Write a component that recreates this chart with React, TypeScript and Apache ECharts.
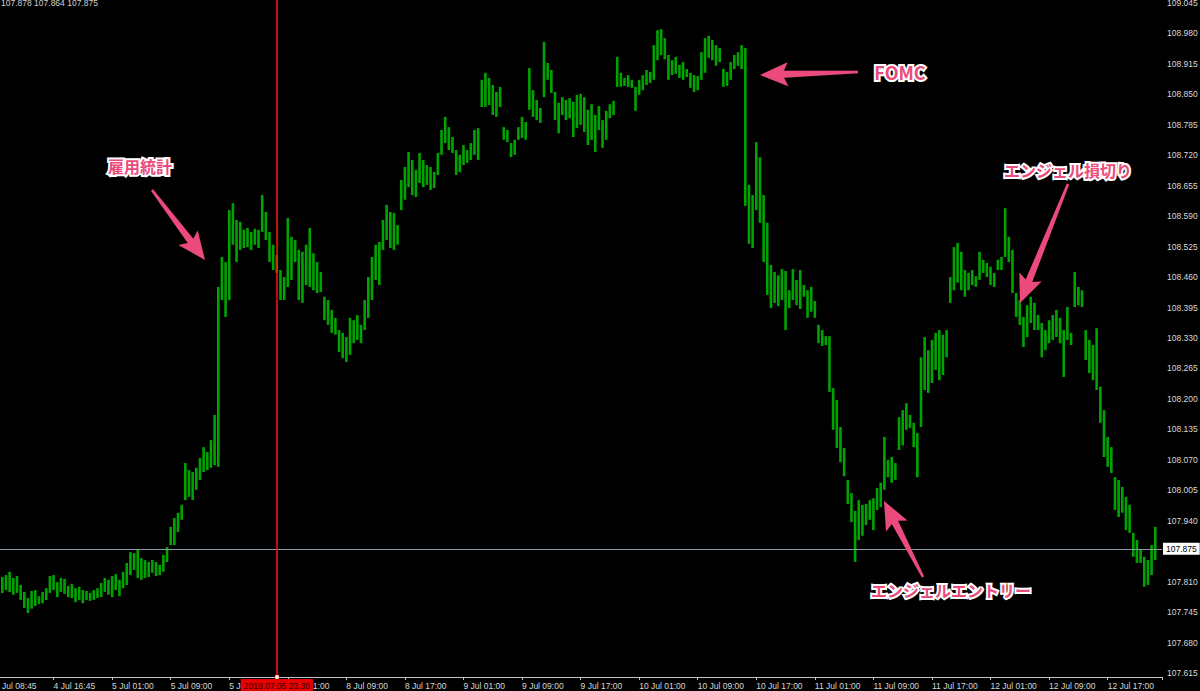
import React, { useEffect, useRef } from "react";
import * as echarts from "echarts";

// ---- axis labels ----
const xLabels = [
  "4 Jul 08:45", "4 Jul 16:45", "5 Jul 01:00", "5 Jul 09:00", "5 Jul 17:00",
  "8 Jul 01:00", "8 Jul 09:00", "8 Jul 17:00", "9 Jul 01:00", "9 Jul 09:00",
  "9 Jul 17:00", "10 Jul 01:00", "10 Jul 09:00", "10 Jul 17:00", "11 Jul 01:00",
  "11 Jul 09:00", "11 Jul 17:00", "12 Jul 01:00", "12 Jul 09:00", "12 Jul 17:00",
];
const yTicks = [
  107.615, 107.68, 107.745, 107.81, 107.875, 107.94, 108.005, 108.07, 108.135,
  108.2, 108.265, 108.33, 108.395, 108.46, 108.525, 108.59, 108.655, 108.72,
  108.785, 108.85, 108.915, 108.98, 109.045,
];

// ---- bar data (30-minute bars, index of first bar) ----
const firstBar = 2;
const highs = [
  107.820, 107.824, 107.831, 107.818, 107.822, 107.803, 107.788, 107.775, 107.790, 107.792,
  107.779, 107.788, 107.796, 107.822, 107.824, 107.809, 107.818, 107.816, 107.801, 107.805,
  107.796, 107.799, 107.792, 107.790, 107.786, 107.792, 107.796, 107.807, 107.818, 107.814,
  107.822, 107.826, 107.814, 107.831, 107.850, 107.873, 107.871, 107.878, 107.860, 107.856,
  107.852, 107.856, 107.852, 107.846, 107.867, 107.884, 107.927, 107.946, 107.957, 107.974,
  108.063, 108.048, 108.044, 108.053, 108.074, 108.097, 108.087, 108.112, 108.166, 108.439,
  108.503, 108.492, 108.603, 108.618, 108.582, 108.578, 108.561, 108.565, 108.556, 108.563,
  108.561, 108.635, 108.599, 108.556, 108.529, 108.507, 108.475, 108.460, 108.586, 108.546,
  108.539, 108.518, 108.514, 108.529, 108.565, 108.511, 108.492, 108.471, 108.418, 108.411,
  108.390, 108.373, 108.347, 108.341, 108.332, 108.373, 108.368, 108.379, 108.358, 108.411,
  108.460, 108.503, 108.529, 108.535, 108.582, 108.614, 108.599, 108.597, 108.571, 108.667,
  108.695, 108.727, 108.710, 108.689, 108.725, 108.710, 108.699, 108.695, 108.684, 108.725,
  108.774, 108.802, 108.780, 108.759, 108.731, 108.721, 108.742, 108.731, 108.746, 108.774,
  108.778, 108.881, 108.896, 108.885, 108.870, 108.855, 108.866, 108.780, 108.774, 108.746,
  108.753, 108.780, 108.802, 108.791, 108.906, 108.859, 108.838, 108.821, 108.962, 108.917,
  108.902, 108.855, 108.832, 108.844, 108.838, 108.842, 108.834, 108.849, 108.851, 108.844,
  108.817, 108.829, 108.806, 108.825, 108.795, 108.815, 108.829, 108.836, 108.930, 108.896,
  108.885, 108.891, 108.881, 108.866, 108.881, 108.891, 108.902, 108.898, 108.955, 108.987,
  108.989, 108.970, 108.934, 108.923, 108.930, 108.913, 108.919, 108.904, 108.896, 108.891,
  108.889, 108.940, 108.970, 108.975, 108.966, 108.955, 108.949, 108.904, 108.898, 108.919,
  108.934, 108.940, 108.955, 108.949, 108.657, 108.635, 108.748, 108.716, 108.635, 108.576,
  108.486, 108.471, 108.464, 108.477, 108.473, 108.432, 108.477, 108.454, 108.475, 108.443,
  108.432, 108.439, 108.409, 108.358, 108.347, 108.334, 108.334, 108.223, 108.198, 108.140,
  108.095, 108.027, 107.999, 107.961, 107.984, 107.974, 107.976, 107.984, 107.988, 108.010,
  108.021, 108.119, 108.070, 108.076, 108.063, 108.161, 108.176, 108.191, 108.166, 108.149,
  108.127, 108.289, 108.332, 108.304, 108.326, 108.341, 108.347, 108.337, 108.347, 108.460,
  108.524, 108.533, 108.514, 108.475, 108.469, 108.475, 108.462, 108.514, 108.497, 108.490,
  108.482, 108.469, 108.497, 108.503, 108.607, 108.546, 108.518, 108.426, 108.411, 108.375,
  108.400, 108.418, 108.405, 108.379, 108.362, 108.347, 108.368, 108.379, 108.390, 108.373,
  108.347, 108.396, 108.341, 108.471, 108.439, 108.432, 108.347, 108.326, 108.315, 108.351,
  108.226, 108.176, 108.119, 108.097, 108.033, 108.027, 108.012, 107.991, 107.974, 107.914,
  107.899, 107.878, 107.863, 107.856, 107.888, 107.927,
];
const lows = [
  107.786, 107.792, 107.788, 107.782, 107.786, 107.771, 107.754, 107.743, 107.752, 107.758,
  107.762, 107.764, 107.771, 107.786, 107.792, 107.777, 107.788, 107.784, 107.777, 107.775,
  107.766, 107.771, 107.764, 107.771, 107.769, 107.771, 107.775, 107.777, 107.788, 107.782,
  107.777, 107.792, 107.779, 107.796, 107.803, 107.824, 107.835, 107.818, 107.814, 107.818,
  107.820, 107.829, 107.822, 107.824, 107.831, 107.852, 107.888, 107.888, 107.916, 107.942,
  107.984, 107.991, 107.984, 108.006, 108.027, 108.044, 108.048, 108.053, 108.059, 108.055,
  108.411, 108.375, 108.411, 108.529, 108.492, 108.518, 108.522, 108.524, 108.518, 108.529,
  108.522, 108.556, 108.539, 108.492, 108.475, 108.469, 108.411, 108.411, 108.439, 108.454,
  108.492, 108.411, 108.405, 108.443, 108.439, 108.432, 108.426, 108.428, 108.368, 108.358,
  108.341, 108.337, 108.300, 108.287, 108.279, 108.294, 108.319, 108.326, 108.319, 108.347,
  108.373, 108.411, 108.454, 108.443, 108.518, 108.539, 108.522, 108.518, 108.529, 108.603,
  108.625, 108.652, 108.635, 108.631, 108.661, 108.652, 108.657, 108.646, 108.650, 108.678,
  108.721, 108.746, 108.731, 108.725, 108.678, 108.684, 108.699, 108.704, 108.710, 108.721,
  108.710, 108.823, 108.823, 108.827, 108.806, 108.802, 108.823, 108.753, 108.748, 108.716,
  108.721, 108.753, 108.757, 108.753, 108.817, 108.802, 108.795, 108.789, 108.844, 108.881,
  108.853, 108.795, 108.767, 108.806, 108.795, 108.799, 108.759, 108.778, 108.785, 108.770,
  108.742, 108.753, 108.727, 108.774, 108.736, 108.753, 108.799, 108.806, 108.866, 108.866,
  108.868, 108.866, 108.864, 108.815, 108.849, 108.859, 108.870, 108.874, 108.881, 108.923,
  108.934, 108.925, 108.881, 108.891, 108.894, 108.885, 108.881, 108.887, 108.864, 108.855,
  108.859, 108.881, 108.896, 108.928, 108.923, 108.911, 108.919, 108.866, 108.868, 108.881,
  108.904, 108.911, 108.904, 108.612, 108.531, 108.522, 108.603, 108.576, 108.492, 108.422,
  108.394, 108.405, 108.398, 108.411, 108.347, 108.394, 108.411, 108.400, 108.392, 108.418,
  108.373, 108.386, 108.373, 108.319, 108.313, 108.315, 108.215, 108.134, 108.095, 108.065,
  108.035, 107.976, 107.937, 107.852, 107.899, 107.908, 107.931, 107.942, 107.920, 107.963,
  107.969, 108.006, 108.033, 108.021, 108.027, 108.091, 108.101, 108.134, 108.138, 108.097,
  108.033, 108.140, 108.219, 108.213, 108.234, 108.262, 108.240, 108.251, 108.289, 108.405,
  108.432, 108.448, 108.432, 108.418, 108.432, 108.443, 108.439, 108.454, 108.469, 108.460,
  108.443, 108.439, 108.475, 108.475, 108.503, 108.492, 108.426, 108.375, 108.358, 108.311,
  108.332, 108.362, 108.347, 108.347, 108.289, 108.304, 108.319, 108.326, 108.332, 108.319,
  108.247, 108.326, 108.315, 108.396, 108.400, 108.396, 108.283, 108.255, 108.240, 108.219,
  108.149, 108.076, 108.055, 108.042, 107.963, 107.948, 107.957, 107.920, 107.914, 107.863,
  107.850, 107.850, 107.799, 107.803, 107.824, 107.856,
];
const lastPrice = 107.875;
const cursorBar = 77;
const cursorLabel = "2019.07.05 23:30";
const headerText = "107.878 107.864 107.875";

// ---- annotations (text + arrow, in page pixels) ----
const annotations = [
  { text: "雇用統計", tx: 140, ty: 166, size: 16, tail: [152, 190], tip: [205, 260] },
  { text: "FOMC", tx: 900, ty: 72, size: 18, tail: [858, 72], tip: [760, 75] },
  { text: "エンジェル損切り", tx: 1068, ty: 170, size: 16, tail: [1068, 184], tip: [1020, 303] },
  { text: "エンジェルエントリー", tx: 951, ty: 590, size: 16, tail: [923, 577], tip: [884, 501] },
];

const PINK = "#ea4b7b";
const GREEN = "#00a400";
const CURSOR_RED = "#ff1010";

function arrowPoints(tail: number[], tip: number[]) {
  const dx = tip[0] - tail[0];
  const dy = tip[1] - tail[1];
  const len = Math.hypot(dx, dy);
  const ux = dx / len, uy = dy / len;
  const nx = -uy, ny = ux;
  const headLen = 24, headHalf = 12, w0 = 2.5, w1 = 7, sweep = 4;
  const bx = tip[0] - ux * headLen, by = tip[1] - uy * headLen;
  const cx = bx - ux * sweep, cy = by - uy * sweep;
  return [
    [tail[0] + (nx * w0) / 2, tail[1] + (ny * w0) / 2],
    [bx + (nx * w1) / 2, by + (ny * w1) / 2],
    [cx + nx * headHalf, cy + ny * headHalf],
    [tip[0], tip[1]],
    [cx - nx * headHalf, cy - ny * headHalf],
    [bx - (nx * w1) / 2, by - (ny * w1) / 2],
    [tail[0] - (nx * w0) / 2, tail[1] - (ny * w0) / 2],
  ];
}

export default function App() {
  const ref = useRef<HTMLDivElement>(null);
  useEffect(() => {
    if (!ref.current) return;
    const chart = echarts.init(ref.current, null, { renderer: "svg" });
    const barData = highs.map((h, k) => [firstBar + k, lows[k], h]);

    const graphics: any[] = [
      {
        type: "text",
        left: 1,
        top: -2,
        style: { text: headerText, fill: "#d0d0d0", fontSize: 8.5, fontFamily: "Liberation Sans" },
        z: 50,
      },
      {
        type: "rect",
        shape: { x: 275, y: 675, width: 4, height: 4 },
        style: { fill: "#ffffff", stroke: "#c00000", lineWidth: 0.5 },
        z: 60,
      },
    ];
    annotations.forEach((a) => {
      graphics.push({
        type: "polygon",
        shape: { points: arrowPoints(a.tail, a.tip) },
        style: { fill: PINK, shadowBlur: 2, shadowColor: "rgba(0,0,0,0.4)" },
        z: 40,
      });
      graphics.push({
        type: "text",
        x: a.tx,
        y: a.ty,
        style: {
          text: a.text,
          fill: "#ffffff",
          stroke: "#ffffff",
          lineWidth: 4,
          align: "center",
          verticalAlign: "middle",
          fontSize: a.size,
          fontWeight: "bold",
          fontFamily: "Noto Sans CJK JP",
        },
        z: 41,
      });
      graphics.push({
        type: "text",
        x: a.tx,
        y: a.ty,
        style: {
          text: a.text,
          fill: PINK,
          align: "center",
          verticalAlign: "middle",
          fontSize: a.size,
          fontWeight: "bold",
          fontFamily: "Noto Sans CJK JP",
        },
        z: 42,
      });
    });

    const axisColor = "#c4c4c4";
    const labelColor = "#d8d8d8";

    chart.setOption({
      animation: false,
      backgroundColor: "#000000",
      grid: { left: -5, right: 38, top: 0, bottom: 14, outerBoundsMode: "none", containLabel: false },
      xAxis: {
        type: "value",
        min: 0,
        max: 318.85,
        interval: 16,
        axisLine: { show: true, lineStyle: { color: axisColor, width: 1 } },
        axisTick: { show: true, length: 3, lineStyle: { color: axisColor } },
        axisLabel: {
          color: labelColor,
          fontSize: 8.5,
          fontFamily: "Liberation Sans",
          align: "left",
          margin: 4,
          showMinLabel: true,
          hideOverlap: false,
          formatter: (v: number) => {
            const k = v / 16;
            if (Math.abs(k - Math.round(k)) > 1e-6) return "";
            return xLabels[Math.round(k)] ?? "";
          },
        },
        splitLine: { show: false },
      },
      yAxis: {
        type: "value",
        position: "right",
        min: 107.6065,
        max: 109.0514,
        axisLine: { show: true, lineStyle: { color: axisColor, width: 1 } },
        axisTick: { show: true, length: 3, lineStyle: { color: axisColor }, customValues: yTicks },
        axisLabel: {
          customValues: yTicks,
          color: labelColor,
          fontSize: 8.5,
          fontFamily: "Liberation Sans",
          margin: 5,
          formatter: (v: number) => v.toFixed(3),
        },
        splitLine: { show: false },
      },
      series: [
        {
          type: "custom",
          z: 2,
          clip: true,
          encode: { x: 0, y: [1, 2] },
          data: barData,
          renderItem: (params: any, api: any) => {
            const x = api.value(0);
            const lo = api.value(1);
            const hi = api.value(2);
            const p1 = api.coord([x, hi]);
            const p2 = api.coord([x, lo]);
            return {
              type: "rect",
              shape: { x: p1[0] - 1.3, y: p1[1], width: 2.6, height: Math.max(1, p2[1] - p1[1]) },
              style: { fill: GREEN },
            };
          },
        },
        {
          type: "line",
          data: [],
          z: 5,
          silent: true,
          markLine: {
            silent: true,
            symbol: ["none", "none"],
            animation: false,
            data: [
              {
                yAxis: lastPrice,
                lineStyle: { color: "#8d9dab", width: 1, type: "solid" },
                label: {
                  show: true,
                  position: "end",
                  distance: 1,
                  formatter: lastPrice.toFixed(3),
                  color: "#000000",
                  backgroundColor: "#ffffff",
                  padding: [2, 3, 1, 3],
                  fontSize: 8.5,
                  fontFamily: "Liberation Sans",
                },
              },
            ],
          },
        },
        {
          type: "line",
          data: [],
          z: 6,
          silent: true,
          markLine: {
            silent: true,
            symbol: ["none", "none"],
            animation: false,
            lineStyle: { color: CURSOR_RED, width: 1.5, type: "solid", opacity: 1 },
            data: [
              {
                xAxis: cursorBar,
                lineStyle: { color: CURSOR_RED, width: 1.5, type: "solid", opacity: 1 },
                label: {
                  show: true,
                  position: "start",
                  distance: 2,
                  formatter: cursorLabel,
                  color: "#300000",
                  backgroundColor: "#e80000",
                  padding: [2, 3, 1, 3],
                  fontSize: 8.5,
                  fontFamily: "Liberation Sans",
                },
              },
            ],
          },
        },
      ],
      graphic: graphics,
    });
    return () => chart.dispose();
  }, []);
  return (
    <div
      ref={ref}
      style={{ position: "fixed", left: 0, top: 0, width: 1200, height: 691, background: "#000" }}
    />
  );
}
